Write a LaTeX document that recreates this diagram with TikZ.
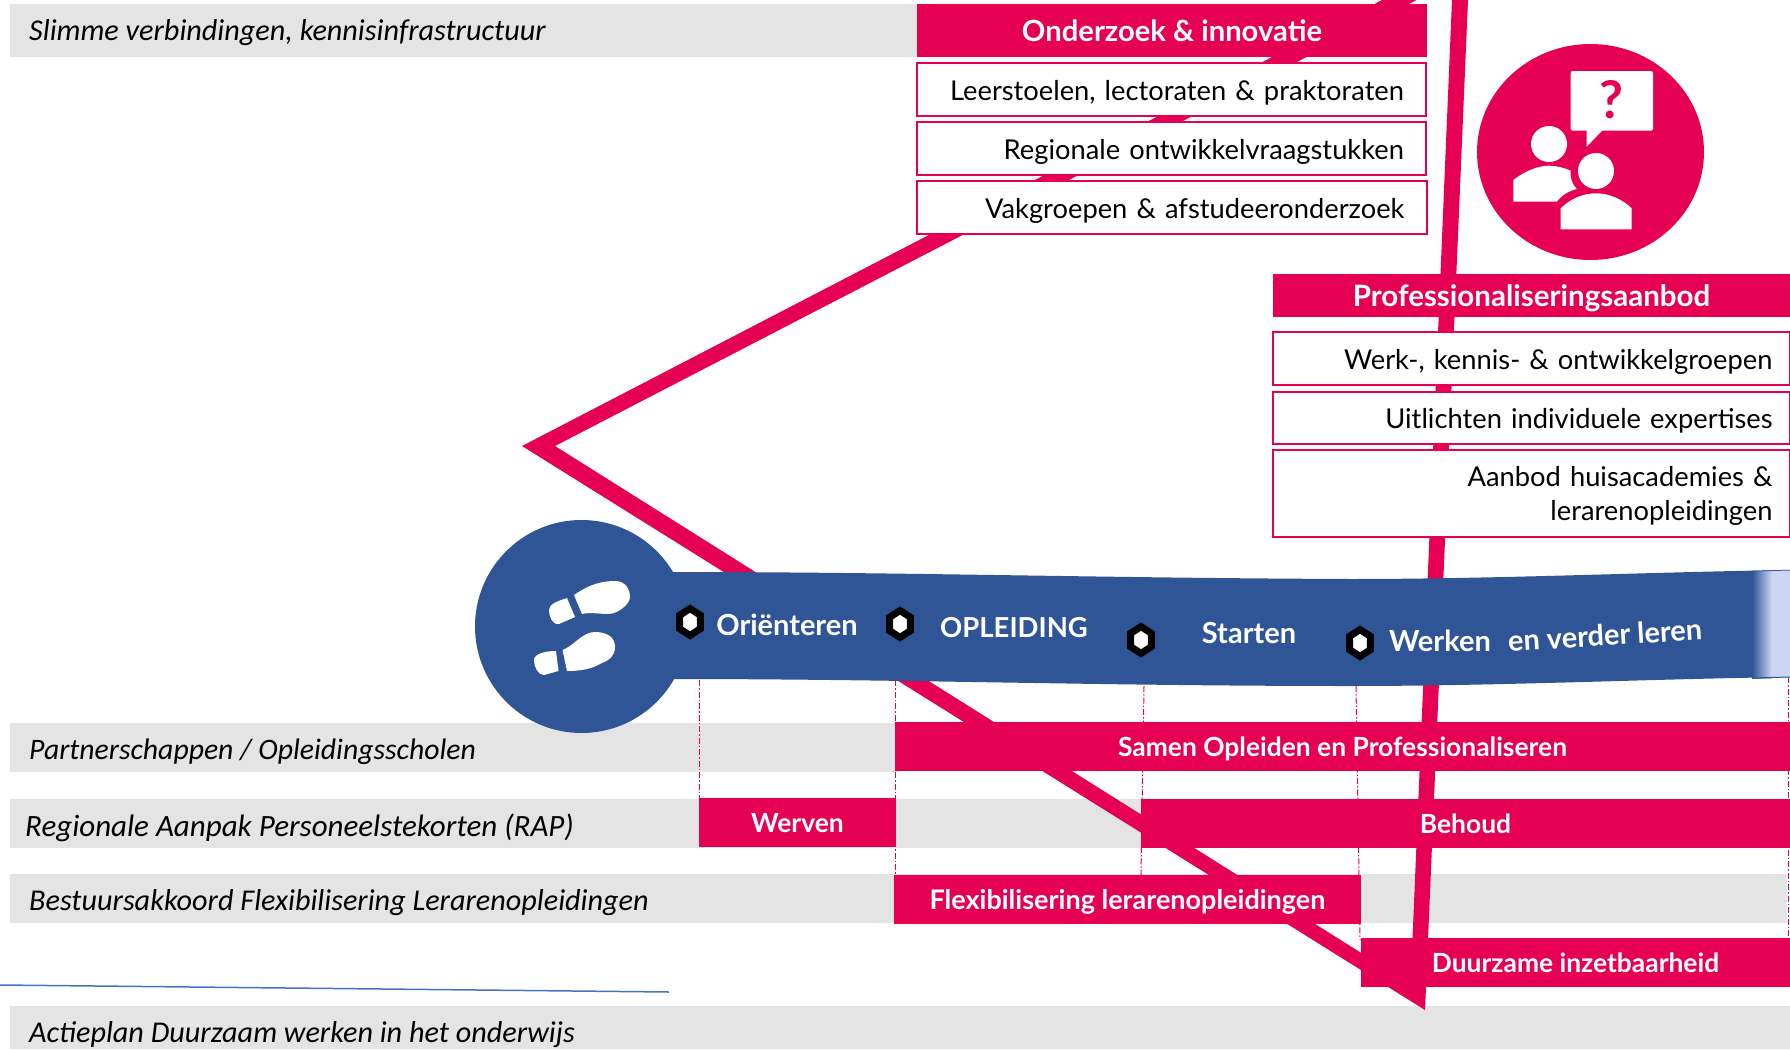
\documentclass[tikz,border=0pt]{standalone}
\usepackage{fontspec}
\setmainfont{Lato}
\newfontfamily\handfont{Carlito}
\usetikzlibrary{shapes.geometric}
\definecolor{rood}{HTML}{E60054}
\definecolor{blauw}{HTML}{2F5597}
\definecolor{licht}{HTML}{CBD6F2}
\definecolor{grijs}{HTML}{E4E4E4}
\definecolor{lijn}{HTML}{4472C4}
\begin{document}
\begin{tikzpicture}[
    x=1pt,y=-1pt,
    rij/.style={
      fill=grijs,
      inner sep=0pt,
      outer sep=0pt,
      anchor=north west,
      minimum height=49pt
    },
    rijtekst/.style={
      anchor=west,
      inner sep=0pt,
      font=\handfont\itshape\fontsize{30.2}{32}\selectfont
    },
    kop/.style={
      fill=rood,
      text=white,
      inner sep=0pt,
      outer sep=0pt,
      anchor=north west,
      minimum height=49pt,
      text height=25pt,
      text depth=5pt,
      font=\bfseries\fontsize{26.4}{28}\selectfont
    },
    vak/.style={
      draw=rood,
      fill=white,
      line width=1.5pt,
      inner sep=0pt,
      outer sep=0pt,
      anchor=north west,
      align=right,
      text height=24pt,
      text depth=3pt,
      font=\fontsize{27.3}{34}\selectfont
    },
    stap/.style={
      text=white,
      inner sep=0pt,
      font=\bfseries\fontsize{29}{30}\selectfont
    },
    zeskant/.style={
      regular polygon,
      regular polygon sides=6,
      shape border rotate=30,
      draw=black,
      fill=white,
      line width=7pt,
      inner sep=0pt,
      minimum size=24pt,
      yscale=1.12,
      transform shape
    },
    streep/.style={
      rood,
      line width=1pt,
      dash pattern=on 6pt off 2pt on 1.5pt off 2pt
    }
  ]
  \useasboundingbox (0,0) rectangle (1790,1049);
  % grijze rijen
  \node[rij, minimum width=907pt, minimum height=53pt] (rijslim) at (10,4) {};
  \node[rij, minimum width=890pt] (rijpartner) at (10,723) {};
  \node[rij, minimum width=1780pt] (rijrap) at (10,799) {};
  \node[rij, minimum width=1777pt] (rijbestuur) at (10,874) {};
  \node[rij, minimum width=1780pt, minimum height=43pt] (rijactie) at (10,1006) {};
  \node[rijtekst] (tslim) at (29,33) {Slimme verbindingen, kennisinfrastructuur};
  \node[rijtekst, font=\handfont\itshape\fontsize{29.7}{32}\selectfont] (tpartner) at (29,752) {Partnerschappen / Opleidingsscholen};
  \node[rijtekst, font=\handfont\itshape\fontsize{31}{32}\selectfont] (trap) at (25,828) {Regionale Aanpak Personeelstekorten (RAP)};
  \node[rijtekst] (tbestuur) at (29,903) {Bestuursakkoord Flexibilisering Lerarenopleidingen};
  \node[rijtekst] (tactie) at (29,1035) {Actieplan Duurzaam werken in het onderwijs};
  % de rode driehoek
  \fill[rood] (1382,0) -- (522,446) -- (1425,1010) -- (1468,0) -- (1452,0)
    -- (1410.6,984) -- (555,446) -- (1416.6,0) -- cycle;
  \draw[lijn, line width=1.5pt] (0,985) -- (669,992);
  % verticale streepjes
  \draw[streep] (699,680) -- (699,800);
  \draw[streep] (895,680) -- (895,875);
  \draw[streep] (1144,686) -- (1141,875);
  \draw[streep] (1356,686) -- (1360,940);
  \draw[streep] (1788,677) -- (1788,940);
  % onderzoek
  \node[kop, minimum width=510pt, minimum height=53pt, text height=28pt, font=\bfseries\fontsize{29.2}{32}\selectfont] (onderzoek) at (917,4) {Onderzoek \& innovatie};
  \node[vak, minimum width=509pt, minimum height=53pt, text width=465pt] (leerstoelen) at (917,63) {Leerstoelen, lectoraten \& praktoraten};
  \node[vak, minimum width=509pt, minimum height=53pt, text width=465pt] (regionaal) at (917,122) {Regionale ontwikkelvraagstukken};
  \node[vak, minimum width=510pt, minimum height=53pt, text width=465pt] (vakgroepen) at (917,181) {Vakgroepen \& afstudeeronderzoek};
  % professionalisering
  \node[kop, minimum width=517pt, minimum height=43pt, text height=28pt, text depth=6pt, font=\bfseries\fontsize{29.5}{32}\selectfont] (prof) at (1273,274) {Professionaliseringsaanbod};
  \node[vak, minimum width=517pt, minimum height=53pt, text width=482pt] (werkgroepen) at (1273,332) {Werk-, kennis- \& ontwikkelgroepen};
  \node[vak, minimum width=517pt, minimum height=52pt, text width=482pt] (uitlichten) at (1273,392) {Uitlichten individuele expertises};
  \node[vak, minimum width=517pt, minimum height=87pt, text width=482pt, text height=22pt, text depth=36pt] (huisacademies) at (1273,450) {Aanbod huisacademies \&\\ lerarenopleidingen};
  % vragen-icoon
  \fill[rood] (1590.5,152) ellipse [x radius=113.5, y radius=108];
  \fill[white, rounded corners=2pt] (1570.7,71) rectangle (1653,130.7);
  \fill[white] (1586.7,130) -- (1586.7,146.7) -- (1602.7,130) -- cycle;
  \node[inner sep=0pt, text=rood, font=\bfseries\fontsize{52}{52}\selectfont] (vraag) at (1611.7,100) {?};
  \fill[white] (1549,144) circle (18);
  \fill[white] (1513.3,201.7) -- (1513.3,180) .. controls (1525,171) and (1538,165.7) .. (1549,165.7)
    .. controls (1556,165.7) and (1564,167.7) .. (1570.7,170.7) .. controls (1570,178) and (1572,184) .. (1576.7,189)
    .. controls (1568,191) and (1561,196) .. (1556.7,201.7) -- cycle;
  \fill[white] (1596,171) circle (18);
  \fill[white] (1560.7,229.3) -- (1560.7,208.3) .. controls (1570,199) and (1583,193.3) .. (1596,193.3)
    .. controls (1609,193.3) and (1622,199) .. (1631.7,208.3) -- (1631.7,229.3) -- cycle;
  % de band
  \fill[blauw] (581.5,626.5) circle (106.5);
  \path[fill=blauw] (660,572) -- (673,572) .. controls (900,572) and (1100,578) .. (1350,579)
    .. controls (1500,579) and (1650,572) .. (1790,570) -- (1790,677)
    .. controls (1650,679) and (1500,686) .. (1350,686) .. controls (1100,686) and (900,679) .. (673,679)
    -- (660,679) -- cycle;
  \fill[left color=blauw, right color=licht] (1752,569) rectangle (1772,678);
  \fill[licht] (1772,569) rectangle (1790,678);
  \draw[blauw, line width=1pt] (1752,571) -- (1790,570);
  \draw[blauw, line width=1pt] (1752,678) -- (1790,677);
  \fill[white] (1752,560) -- (1790,560) -- (1790,569.5) -- (1752,570.5) -- cycle;
  % voetstappen
  \fill[white] (574,595) .. controls (590,584) and (602,581) .. (615,581) .. controls (626,581) and (630,590) .. (630,597)
    .. controls (630,604) and (618,614) .. (608,614) .. controls (600,614) and (590,612) .. (582,614) -- cycle;
  \fill[white] (567,598) -- (575,617) -- (559,624) .. controls (552,625) and (549,616) .. (549,610)
    .. controls (549,604) and (558,601) .. (567,598) -- cycle;
  \fill[white] (562.5,650) .. controls (574,646) and (582,632) .. (595,632) .. controls (608,632) and (615,638) .. (615,647)
    .. controls (615,655) and (610,660) .. (602,663) .. controls (590,670) and (578,671) .. (567,671) -- cycle;
  \fill[white] (556,651) -- (558.5,671) -- (544,675) .. controls (538,675) and (534,667) .. (534,660)
    .. controls (534,654) and (545,651) .. (556,651) -- cycle;
  % stappen
  \node[zeskant] (h1) at (690,622) {};
  \node[zeskant] (h2) at (900,624) {};
  \node[zeskant] (h3) at (1141,640) {};
  \node[zeskant] (h4) at (1360,643) {};
  \node[stap] (orient) at (787,625) {Oriënteren};
  \node[stap, font=\bfseries\fontsize{27.5}{30}\selectfont] (opl) at (1014,628) {OPLEIDING};
  \node[stap] (start) at (1249,633) {Starten};
  \node[stap] (werk) at (1440,641) {Werken};
  \node[stap, rotate=3.5] (leren) at (1605,635) {en verder leren};
  % rode balken
  \node[kop, minimum width=895pt] (samen) at (895,722) {Samen Opleiden en Professionaliseren};
  \node[kop, minimum width=197pt] (werven) at (699,798) {Werven};
  \node[kop, minimum width=649pt] (behoud) at (1141,799) {Behoud};
  \node[kop, minimum width=467pt, font=\bfseries\fontsize{27}{28}\selectfont] (flex) at (894,875) {Flexibilisering lerarenopleidingen};
  \node[kop, minimum width=429pt] (duurzaam) at (1361,938) {Duurzame inzetbaarheid};
\end{tikzpicture}
\end{document}
